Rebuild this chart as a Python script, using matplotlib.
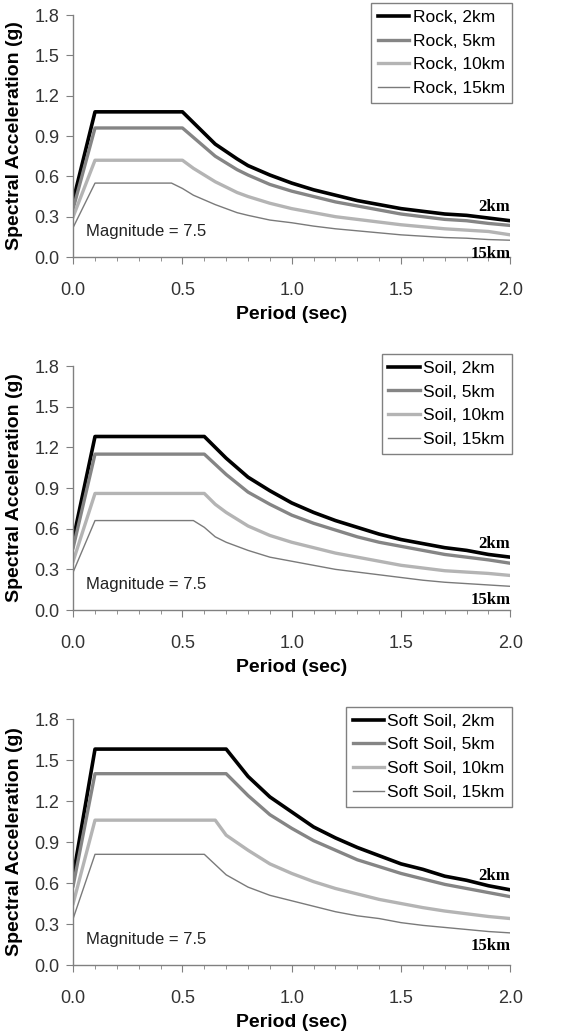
import matplotlib
matplotlib.use("Agg")
import matplotlib.pyplot as plt

plt.rcParams['font.family'] = ['Liberation Sans', 'DejaVu Sans']

# ---- Rock ----
rock_x = [0.0, 0.1, 0.5, 0.55, 0.65, 0.75, 0.8, 0.9, 1.0, 1.1, 1.2, 1.3, 1.4, 1.5, 1.6, 1.7, 1.8, 1.9, 2.0]
rock_2km = [0.42, 1.08, 1.08, 1.00, 0.84, 0.73, 0.68, 0.61, 0.55, 0.50, 0.46, 0.42, 0.39, 0.36, 0.34, 0.32, 0.31, 0.29, 0.27]
rock_5km = [0.36, 0.96, 0.96, 0.89, 0.75, 0.65, 0.61, 0.54, 0.49, 0.45, 0.41, 0.38, 0.35, 0.32, 0.30, 0.28, 0.27, 0.25, 0.235]
rock_10km = [0.30, 0.72, 0.72, 0.66, 0.56, 0.48, 0.45, 0.40, 0.36, 0.33, 0.30, 0.28, 0.26, 0.24, 0.225, 0.21, 0.20, 0.19, 0.165]
rock_x15 = [0.0, 0.1, 0.45, 0.5, 0.55, 0.65, 0.75, 0.8, 0.9, 1.0, 1.1, 1.2, 1.3, 1.4, 1.5, 1.6, 1.7, 1.8, 1.9, 2.0]
rock_15km = [0.22, 0.55, 0.55, 0.51, 0.46, 0.39, 0.33, 0.31, 0.275, 0.255, 0.23, 0.21, 0.195, 0.18, 0.165, 0.155, 0.145, 0.14, 0.13, 0.125]

# ---- Soil ----
soil_x = [0.0, 0.1, 0.6, 0.7, 0.8, 0.9, 1.0, 1.1, 1.2, 1.3, 1.4, 1.5, 1.6, 1.7, 1.8, 1.9, 2.0]
soil_2km = [0.52, 1.28, 1.28, 1.12, 0.98, 0.88, 0.79, 0.72, 0.66, 0.61, 0.56, 0.52, 0.49, 0.46, 0.44, 0.41, 0.39]
soil_5km = [0.46, 1.15, 1.15, 1.00, 0.87, 0.78, 0.70, 0.64, 0.59, 0.54, 0.50, 0.47, 0.44, 0.41, 0.39, 0.37, 0.345]
soil_x10 = [0.0, 0.1, 0.6, 0.65, 0.7, 0.8, 0.9, 1.0, 1.1, 1.2, 1.3, 1.4, 1.5, 1.6, 1.7, 1.8, 1.9, 2.0]
soil_10km = [0.36, 0.86, 0.86, 0.78, 0.72, 0.62, 0.55, 0.50, 0.46, 0.42, 0.39, 0.36, 0.33, 0.31, 0.29, 0.28, 0.27, 0.255]
soil_x15 = [0.0, 0.1, 0.55, 0.6, 0.65, 0.7, 0.8, 0.9, 1.0, 1.1, 1.2, 1.3, 1.4, 1.5, 1.6, 1.7, 1.8, 1.9, 2.0]
soil_15km = [0.28, 0.66, 0.66, 0.61, 0.54, 0.50, 0.44, 0.39, 0.36, 0.33, 0.30, 0.28, 0.26, 0.24, 0.22, 0.205, 0.195, 0.185, 0.175]

# ---- Soft soil ----
soft_x = [0.0, 0.1, 0.7, 0.8, 0.9, 1.0, 1.1, 1.2, 1.3, 1.4, 1.5, 1.6, 1.7, 1.8, 1.9, 2.0]
soft_2km = [0.65, 1.58, 1.58, 1.38, 1.23, 1.12, 1.01, 0.93, 0.86, 0.80, 0.74, 0.70, 0.65, 0.62, 0.58, 0.55]
soft_5km = [0.58, 1.40, 1.40, 1.24, 1.10, 1.00, 0.91, 0.84, 0.77, 0.72, 0.67, 0.63, 0.59, 0.56, 0.53, 0.50]
soft_x10 = [0.0, 0.1, 0.65, 0.7, 0.8, 0.9, 1.0, 1.1, 1.2, 1.3, 1.4, 1.5, 1.6, 1.7, 1.8, 1.9, 2.0]
soft_10km = [0.45, 1.06, 1.06, 0.95, 0.84, 0.74, 0.67, 0.61, 0.56, 0.52, 0.48, 0.45, 0.42, 0.395, 0.375, 0.355, 0.34]
soft_x15 = [0.0, 0.1, 0.6, 0.7, 0.8, 0.9, 1.0, 1.1, 1.2, 1.3, 1.4, 1.5, 1.6, 1.7, 1.8, 1.9, 2.0]
soft_15km = [0.34, 0.81, 0.81, 0.66, 0.57, 0.51, 0.47, 0.43, 0.39, 0.36, 0.34, 0.31, 0.29, 0.275, 0.26, 0.245, 0.235]

panels = [
    ("Rock", [(rock_x, rock_2km), (rock_x, rock_5km), (rock_x, rock_10km), (rock_x15, rock_15km)]),
    ("Soil", [(soil_x, soil_2km), (soil_x, soil_5km), (soil_x10, soil_10km), (soil_x15, soil_15km)]),
    ("Soft Soil", [(soft_x, soft_2km), (soft_x, soft_5km), (soft_x10, soft_10km), (soft_x15, soft_15km)]),
]
distances = ["2km", "5km", "10km", "15km"]
colors = ["black", "#858585", "#b4b4b4", "#7a7a7a"]
widths = [2.6, 2.4, 2.4, 1.0]

fig = plt.figure(figsize=(5.76, 10.31), dpi=100)
boxes = [[0.127, 0.7507, 0.759, 0.2347],
         [0.127, 0.4083, 0.759, 0.2367],
         [0.127, 0.0640, 0.759, 0.2386]]

for box, (site, series) in zip(boxes, panels):
    ax = fig.add_axes(box)
    for (xs, ys), d, c, w in zip(series, distances, colors, widths):
        ax.plot(xs, ys, color=c, lw=w, label=f"{site}, {d}")
    ax.set_xlim(0, 2.0)
    ax.set_ylim(0, 1.8)
    ax.set_xticks([0.0, 0.5, 1.0, 1.5, 2.0])
    ax.set_xticks([i / 10 for i in range(21)], minor=True)
    ax.set_yticks([0.0, 0.3, 0.6, 0.9, 1.2, 1.5, 1.8])
    ax.xaxis.set_major_formatter(matplotlib.ticker.FormatStrFormatter('%.1f'))
    ax.yaxis.set_major_formatter(matplotlib.ticker.FormatStrFormatter('%.1f'))
    for s in ["top", "right"]:
        ax.spines[s].set_visible(False)
    for s in ["left", "bottom"]:
        ax.spines[s].set_color("#808080")
        ax.spines[s].set_linewidth(1.0)
    ax.tick_params(which="both", direction="out", color="#808080", labelsize=13,
                   labelcolor="#333333")
    ax.tick_params(which="major", length=5)
    ax.tick_params(axis="x", which="major", pad=13)
    ax.tick_params(axis="y", which="major", pad=5)
    ax.tick_params(which="minor", length=3)
    ax.set_xlabel("Period (sec)", fontsize=14, fontweight="bold", labelpad=5)
    ax.set_ylabel("Spectral Acceleration (g)", fontsize=14, fontweight="bold", labelpad=8)
    ax.text(0.06, 0.19, "Magnitude = 7.5", fontsize=12, va="center", ha="left",
            color="#222222")
    ax.text(2.0, series[0][1][-1] + 0.04, "2km", family="Liberation Serif",
            fontweight="bold", fontsize=12, ha="right", va="bottom")
    ax.text(2.0, series[3][1][-1] - 0.04, "15km", family="Liberation Serif",
            fontweight="bold", fontsize=12, ha="right", va="top")
    leg = ax.legend(loc="upper right", bbox_to_anchor=(1.003, 1.05), fontsize=12.5,
                    frameon=True, fancybox=False, edgecolor="#606060",
                    handlelength=1.8, handletextpad=0.2, labelspacing=0.49,
                    borderpad=0.4, borderaxespad=0.0)
    leg.get_frame().set_linewidth(1.0)

fig.savefig("out.png", dpi=100)
